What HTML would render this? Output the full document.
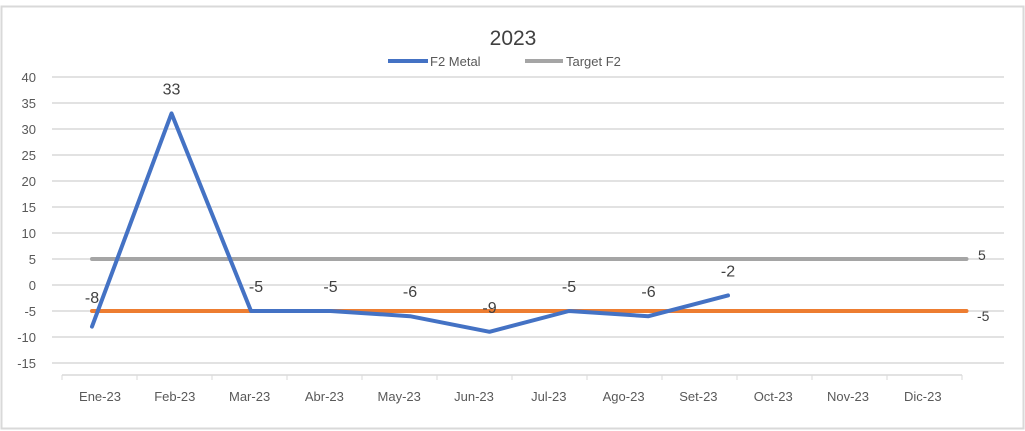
<!DOCTYPE html>
<html><head><meta charset="utf-8"><style>
body{margin:0;background:#fff;}
svg{display:block;font-family:"Liberation Sans",sans-serif;}
</style></head><body>
<svg id="chart" width="1025" height="431">
<rect x="1.5" y="6.5" width="1022" height="422" fill="#fff" stroke="#d9d9d9" stroke-width="2"/>
<text x="513" y="45" font-size="21" fill="#404040" text-anchor="middle">2023</text>
<g>
<g><line x1="388" y1="61" x2="428" y2="61" stroke="#4472c4" stroke-width="4"/><text x="430" y="66" font-size="13" fill="#595959">F2 Metal</text></g>
<g><line x1="525" y1="61" x2="563" y2="61" stroke="#a5a5a5" stroke-width="4"/><text x="566" y="66" font-size="13" fill="#595959">Target F2</text></g>
</g>
<g id="grid"></g><g id="yticks"></g><g id="xaxis"></g><g id="series"></g>
</svg>
<script>
const categories=["Ene-23","Feb-23","Mar-23","Abr-23","May-23","Jun-23","Jul-23","Ago-23","Set-23","Oct-23","Nov-23","Dic-23"];
const metal=[-8,33,-5,-5,-6,-9,-5,-6,-2];
const target=[5,5,5,5,5,5,5,5,5,5,5,5];
const lower=[-5,-5,-5,-5,-5,-5,-5,-5,-5,-5,-5,-5];
const yTicks=[40,35,30,25,20,15,10,5,0,-5,-10,-15];
const NS="http://www.w3.org/2000/svg";
function y(v){return 285-(v*26/5);}
function xp(i){return 92+i*79.5;}
function xl(i){return 100+i*74.8;}
function mk(tag,attrs,parent,txt){const e=document.createElementNS(NS,tag);for(const k in attrs)e.setAttribute(k,attrs[k]);if(txt!==undefined)e.textContent=txt;parent.appendChild(e);return e;}
const grid=document.getElementById('grid'),yt=document.getElementById('yticks'),xa=document.getElementById('xaxis'),se=document.getElementById('series');
yTicks.forEach(v=>{
const g=mk('line',{x1:52,x2:1004,y1:y(v),y2:y(v),stroke:'#d9d9d9','stroke-width':1.5},grid);


const t=mk('text',{x:36,y:y(v)+5,'font-size':13,fill:'#595959','text-anchor':'end'},yt,String(v));


});
const ax=mk('line',{x1:62,x2:962,y1:375,y2:375,stroke:'#d9d9d9','stroke-width':1.5},xa);


categories.forEach((c,i)=>{
const tk=mk('line',{x1:62+i*75,x2:62+i*75,y1:375,y2:380,stroke:'#d9d9d9'},xa);


const t=mk('text',{x:xl(i),y:401,'font-size':13,fill:'#595959','text-anchor':'middle'},xa,c);


});
const tk2=mk('line',{x1:962,x2:962,y1:375,y2:380,stroke:'#d9d9d9'},xa);


function line(arr,color,name){
const p=mk('polyline',{points:arr.map((v,i)=>xp(i)+','+y(v)).join(' '),fill:'none',stroke:color,'stroke-width':4,'stroke-linejoin':'round','stroke-linecap':'round'},se);


}
line(target,'#a5a5a5','target-f2-line');
line(lower,'#ed7d31','lower-target-line');
line(metal,'#4472c4','f2-metal-line');
const lt=mk('text',{x:978,y:y(target[11])+1,'font-size':14,fill:'#404040'},se,String(target[11]));


const ll=mk('text',{x:977,y:y(lower[11])+10,'font-size':14,fill:'#404040'},se,String(lower[11]));


metal.forEach((v,i)=>{
let dx=0,dy=-19;
if(i===2){dx=5;dy=-19;}
const t=mk('text',{x:xp(i)+dx,y:(i===0?y(-5)-8:y(v)+dy),'font-size':16,fill:'#404040','text-anchor':'middle'},se,String(v));


});
</script>
</body></html>
